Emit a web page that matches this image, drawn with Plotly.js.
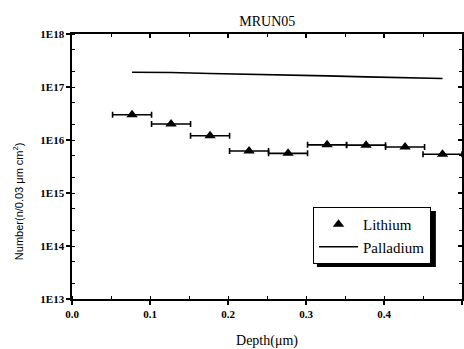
<!DOCTYPE html>
<html>
<head>
<meta charset="utf-8">
<script src="https://cdn.plot.ly/plotly-3.0.1.min.js"></script>
<style>
  html, body { margin: 0; padding: 0; background: #fff; }
  #chart { width: 464px; height: 349px; }
</style>
</head>
<body>
<div id="chart"></div>
<script>
// Depth bin centres (µm) and bin half-width
const depth = [0.077, 0.127, 0.177, 0.227, 0.277, 0.327, 0.377, 0.427, 0.475];
const binHalfWidth = [0.025, 0.025, 0.025, 0.025, 0.025, 0.025, 0.025, 0.025, 0.025];

// Areal densities per 0.03 µm slice
const lithium = [3.0e16, 2.0e16, 1.2e16, 6.2e15, 5.6e15, 8.1e15, 8.0e15, 7.4e15, 5.4e15];
const palladium = [1.90e17, 1.88e17, 1.80e17, 1.75e17, 1.69e17, 1.62e17, 1.55e17, 1.49e17, 1.45e17];

// Axis ticks
const xTicks = [0.0, 0.1, 0.2, 0.3, 0.4, 0.5];
const xTickText = ['0.0', '0.1', '0.2', '0.3', '0.4', '0.5'];
const yTicks = [1e13, 1e14, 1e15, 1e16, 1e17, 1e18];
const yTickText = ['1E13', '1E14', '1E15', '1E16', '1E17', '1E18'];

const serif = 'Liberation Serif, DejaVu Serif, serif';
const sans = 'Liberation Sans, DejaVu Sans, sans-serif';

const traces = [
  {
    name: 'Lithium',
    x: depth,
    y: lithium,
    type: 'scatter',
    mode: 'markers',
    marker: { symbol: 'triangle-up', size: 10, color: '#000' },
    error_x: { type: 'data', array: binHalfWidth, symmetric: true, color: '#000', thickness: 1.6, width: 3 }
  },
  {
    name: 'Palladium',
    x: depth,
    y: palladium,
    type: 'scatter',
    mode: 'lines',
    line: { color: '#000', width: 1.6 }
  },
  // carries the top/right frame axes with their inward ticks
  { x: [], y: [], xaxis: 'x2', yaxis: 'y2', type: 'scatter', mode: 'markers', showlegend: false, hoverinfo: 'skip' }
];

const tickFont = { family: serif, size: 11, color: '#000', weight: 'bold' };

const layout = {
  width: 464,
  height: 349,
  margin: { l: 72, r: 2, t: 34, b: 50 },
  font: { family: serif, color: '#000' },
  paper_bgcolor: '#fff',
  plot_bgcolor: '#fff',
  showlegend: true,
  title: {
    text: 'MRUN05',
    font: { family: serif, size: 14, color: '#000' },
    x: 0.576, xanchor: 'center',
    y: 0.94, yanchor: 'middle'
  },
  xaxis: {
    range: [0, 0.5],
    tickvals: xTicks,
    ticktext: xTickText,
    showline: true, linecolor: '#000', linewidth: 1.6, mirror: true,
    ticks: 'outside', ticklen: 4, tickwidth: 1.2, tickcolor: '#000',
    showgrid: false, zeroline: false,
    tickfont: tickFont,
    minor: { dtick: 0.05, ticks: 'inside', ticklen: 3, tickcolor: '#000', tickwidth: 1 },
    title: { text: 'Depth(μm)', font: { family: serif, size: 14, color: '#000' }, standoff: 20 }
  },
  yaxis: {
    type: 'log',
    range: [13, 18],
    tickvals: yTicks,
    ticktext: yTickText,
    showline: true, linecolor: '#000', linewidth: 1.6, mirror: true,
    ticks: 'outside', ticklen: 4, tickwidth: 1.2, tickcolor: '#000',
    showgrid: false, zeroline: false,
    tickfont: tickFont,
    minor: { ticks: 'inside', ticklen: 3, tickcolor: '#000', tickwidth: 1 },
    title: { text: '' }
  },
  xaxis2: {
    overlaying: 'x', side: 'top', range: [0, 0.5],
    tickvals: xTicks, showticklabels: false,
    ticks: 'inside', ticklen: 4, tickwidth: 1.2, tickcolor: '#000',
    minor: { dtick: 0.05, ticks: 'inside', ticklen: 3, tickcolor: '#000', tickwidth: 1 },
    showgrid: false, zeroline: false, showline: false
  },
  yaxis2: {
    overlaying: 'y', side: 'right', type: 'log', range: [13, 18],
    tickvals: yTicks, showticklabels: false,
    ticks: 'inside', ticklen: 4, tickwidth: 1.2, tickcolor: '#000',
    minor: { ticks: 'inside', ticklen: 3, tickcolor: '#000', tickwidth: 1 },
    showgrid: false, zeroline: false, showline: false
  },
  // vertical axis title
  annotations: [{
    text: 'Number(n/0.03 μm cm<sup>2</sup>)',
    xref: 'paper', yref: 'paper', x: -0.138, y: 0.37,
    xanchor: 'center', yanchor: 'middle', textangle: -90, showarrow: false,
    font: { family: sans, size: 11, color: '#000' }
  }],
  legend: {
    x: 0.618, y: 0.347, xanchor: 'left', yanchor: 'top',
    bgcolor: '#fff',
    bordercolor: '#000',
    borderwidth: 1,
    itemwidth: 39,
    font: { family: serif, size: 15, color: '#000' }
  },
  // drop shadow on the right and bottom of the legend box
  shapes: [{
    type: 'rect', xref: 'paper', yref: 'paper', layer: 'below',
    x0: 0.628, x1: 0.933, y0: 0.121, y1: 0.332,
    fillcolor: '#000', line: { width: 0 }
  }]
};

Plotly.newPlot('chart', traces, layout, { displayModeBar: false, staticPlot: true });
</script>
</body>
</html>
